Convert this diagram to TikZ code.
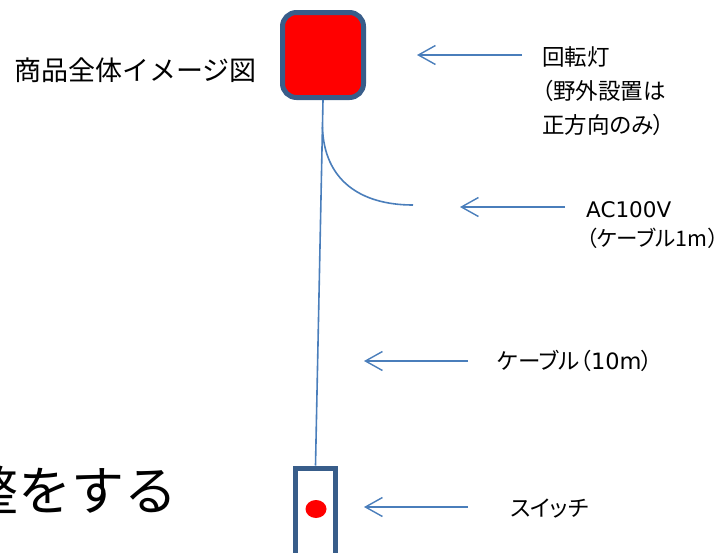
\documentclass[tikz,border=0pt]{standalone}
\usepackage{fontspec}
\setmainfont{Noto Sans CJK JP}
\newfontfamily\jpp[RawFeature=+palt]{Noto Sans CJK JP}
\newfontfamily\lat{DejaVu Sans}
\usetikzlibrary{arrows.meta,calc,shapes.geometric}
\definecolor{linkblue}{HTML}{4A7EBB}
\definecolor{frameblue}{HTML}{385D8A}
\begin{document}
\begin{tikzpicture}[x=1pt,y=-1pt,
  lbl/.style={inner sep=0pt,anchor=west,font=\jpp\fontsize{22.5}{34}\selectfont,align=left},
  ptr/.style={draw=linkblue,line width=1.4pt,-{Straight Barb[length=17pt,width=19pt,line width=1.4pt]}},
  wire/.style={draw=linkblue,line width=1.6pt}]
\useasboundingbox (0,0) rectangle (728,552);
% lamp
\node (lamp) [draw=frameblue,fill=red,line width=5pt,rounded corners=14pt,
  minimum width=81pt,minimum height=85pt,inner sep=0pt] at (323,55) {};
% switch
\node (switch) [draw=frameblue,fill=white,line width=5pt,
  minimum width=40pt,minimum height=100pt,inner sep=0pt,anchor=north] at (315.5,465.5) {};
\node (dot) [fill=red,ellipse,minimum width=21pt,minimum height=18pt,inner sep=0pt] at (316,509) {};
% cable
\draw[wire] (lamp.south) -- (switch.north);
\coordinate (split) at ($(lamp.south)!0.074!(switch.north)$);
\coordinate (plugend) at (413,205);
\draw[wire] (split) .. controls (324,180) and (360,205) .. (plugend);
% title
\node (title) [inner sep=0pt,anchor=west,font=\fontsize{27}{30}\selectfont] at (14,70) {商品全体イメージ図};
\node (big) [inner sep=0pt,anchor=west,font=\fontsize{53}{60}\selectfont] at (-35,490) {整をする};
% labels
\node (l1) [lbl,anchor=north west] at (542,46) {回転灯\\（野外設置は\\正方向のみ）};
\node (l2) [lbl,anchor=north west,font=\jpp\fontsize{21.5}{29}\selectfont] at (586,201) {{\lat AC100V}\\（ケーブル1m）};
\node (l3) [lbl] at (497,361) {ケーブル（{\lat 10m}）};
\node (l4) [lbl] at (510,509) {スイッチ};
% arrows
\coordinate (a1s) at (522,55); \coordinate (a1e) at (417,55);
\coordinate (a2s) at (565,207); \coordinate (a2e) at (460,207);
\coordinate (a3s) at (468,361); \coordinate (a3e) at (364,361);
\coordinate (a4s) at (468,507); \coordinate (a4e) at (364,507);
\draw[ptr] (a1s) -- (a1e);
\draw[ptr] (a2s) -- (a2e);
\draw[ptr] (a3s) -- (a3e);
\draw[ptr] (a4s) -- (a4e);
\end{tikzpicture}
\end{document}
